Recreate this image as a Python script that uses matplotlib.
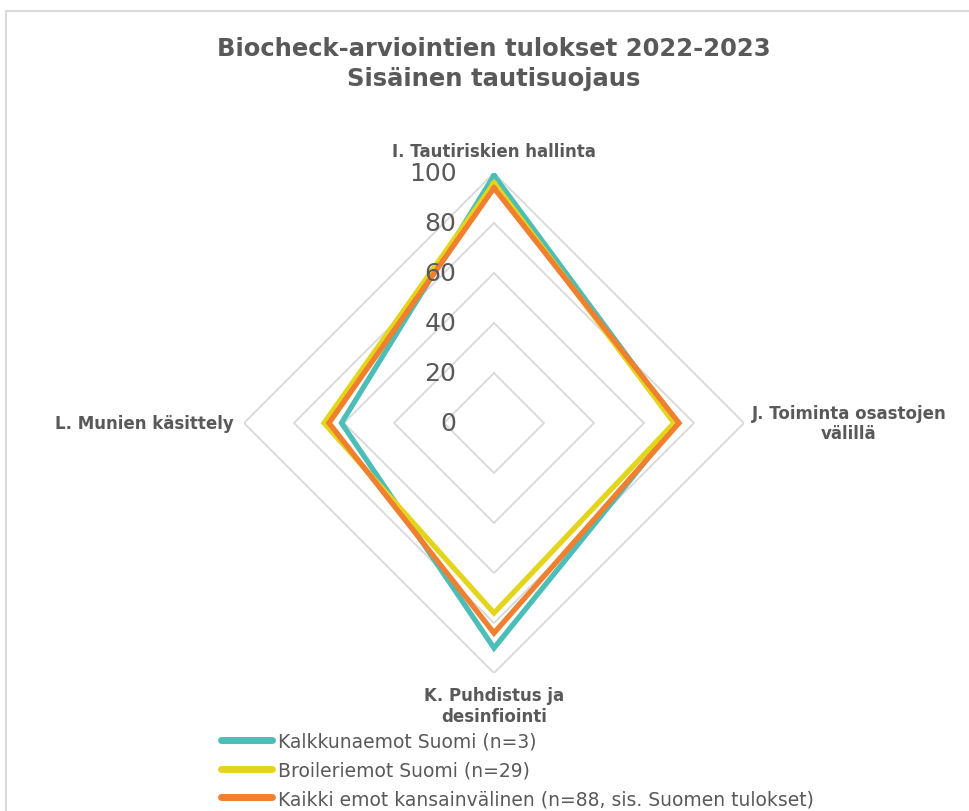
import numpy as np
import matplotlib
matplotlib.use("Agg")
import matplotlib.pyplot as plt
from matplotlib.patches import Rectangle

plt.rcParams['font.family'] = ['DejaVu Sans']

# data
categories = ["I. Tautiriskien hallinta", "J. Toiminta osastojen\nvälillä",
              "K. Puhdistus ja\ndesinfiointi", "L. Munien käsittely"]
series_names = ["Kalkkunaemot Suomi (n=3)", "Broileriemot Suomi (n=29)",
                "Kaikki emot kansainvälinen (n=88, sis. Suomen tulokset)"]
kalkkuna = [99, 73, 90, 61]
broileri = [96, 72, 76, 68]
kaikki = [94, 74, 84, 66]
ticks = [0, 20, 40, 60, 80, 100]

colors = ["#4DBDB8", "#E3D51C", "#F07F2F"]
grey = "#595959"

W, H = 969, 812
fig = plt.figure(figsize=(W / 100, H / 100), dpi=100)
fig.add_artist(Rectangle((6 / W, -0.1), 1.2, 1.1 - 12 / H, transform=fig.transFigure,
                         fill=False, edgecolor="#d9d9d9", linewidth=1.5))

cx, cy, R = 494, 424, 250
ax = fig.add_axes([(cx - R) / W, (H - cy - R) / H, 2 * R / W, 2 * R / H],
                  projection="polar")
ax.set_theta_zero_location("N")
ax.set_theta_direction(-1)
ax.set_ylim(0, 100)
ax.axis("off")

theta = np.linspace(0, 2 * np.pi, len(categories), endpoint=False)
theta_c = np.append(theta, theta[0])

# straight grid rings
for t in ticks[1:]:
    ax.plot(theta_c, [t] * len(theta_c), color="#d9d9d9", lw=1.3, zorder=1)

for vals, col, name in zip([kalkkuna, broileri, kaikki], colors, series_names):
    ax.plot(theta_c, vals + vals[:1], color=col, lw=3.8, label=name,
            solid_joinstyle="miter", zorder=3)

for t in ticks:
    ax.annotate(str(t), xy=(0, t), xytext=(-27, 0), textcoords="offset points",
                ha="right", va="center", fontsize=18, color=grey, zorder=5)

lab_kw = dict(fontsize=12, fontweight="bold", color=grey, multialignment="center")
ax.text(theta[0], 109, categories[0], ha="center", va="center", **lab_kw)
ax.text(theta[1], 103, categories[1], ha="left", va="center", **lab_kw)
ax.text(theta[2], 113, categories[2], ha="center", va="center", **lab_kw)
ax.text(theta[3], 104, categories[3], ha="right", va="center", **lab_kw)

fig.text(494 / W, 1 - 64 / H, "Biocheck-arviointien tulokset 2022-2023\nSisäinen tautisuojaus",
         ha="center", va="center", fontsize=17.5, fontweight="bold", color=grey,
         linespacing=1.3)

leg = fig.legend(loc="upper left", bbox_to_anchor=(213 / W, 1 - 725 / H),
                 frameon=False, fontsize=13.5, handlelength=2.77, handletextpad=0.32,
                 labelspacing=0.52, borderaxespad=0)
for txt in leg.get_texts():
    txt.set_color(grey)
for line in leg.get_lines():
    line.set_linewidth(5)
    line.set_solid_capstyle("round")

fig.savefig("out.png", dpi=100)
